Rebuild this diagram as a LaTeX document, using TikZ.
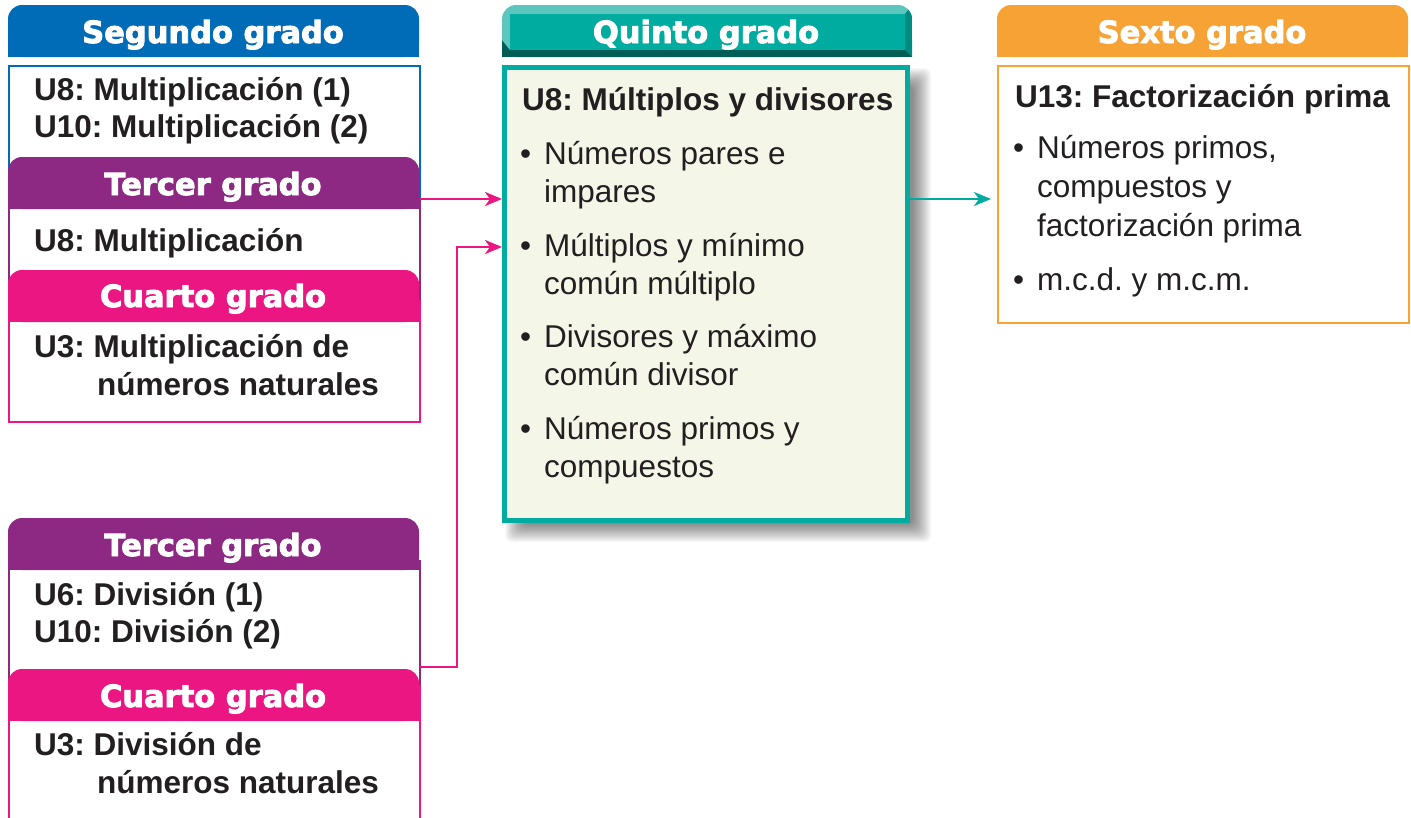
\documentclass[tikz,border=0pt]{standalone}
\usepackage{fontspec}
\setmainfont{Liberation Sans}
\newfontfamily\hdrfont[BoldFeatures={FakeBold=3}]{DejaVu Sans}
\usetikzlibrary{arrows.meta,calc}
\definecolor{cblue}{RGB}{0,108,183}
\definecolor{cpurple}{RGB}{141,40,131}
\definecolor{cpink}{RGB}{236,22,131}
\definecolor{cteal}{RGB}{0,171,160}
\definecolor{ctealL}{RGB}{92,198,190}
\definecolor{ctealR}{RGB}{0,138,128}
\definecolor{ctealD}{RGB}{0,94,87}
\definecolor{corange}{RGB}{247,162,53}
\definecolor{ccream}{RGB}{244,247,232}
\definecolor{ctext}{RGB}{35,31,32}
\newcommand\hdrbox[3]{%
  \fill[#1,rounded corners=14pt] (#2,#3) rectangle ++(411,52);
  \fill[#1] (#2,#3) ++(0,20) rectangle ++(411,32);}
\frenchspacing
\begin{document}
\begin{tikzpicture}[x=1pt,y=-1pt,
  hdrtxt/.style={text=white,font=\hdrfont\bfseries\fontsize{30.5}{36}\selectfont,anchor=base,inner sep=0},
  bt/.style={text=ctext,font=\bfseries\fontsize{31.5}{38}\selectfont,anchor=base west,inner sep=0},
  rt/.style={text=ctext,font=\fontsize{31.5}{38}\selectfont,anchor=base west,inner sep=0},
  boxnode/.style={draw,anchor=north west,inner sep=0,minimum width=411pt},
  pinkline/.style={draw=cpink,line width=2.5pt,-{Stealth[length=17pt,width=14pt,inset=5pt]}},
  tealline/.style={draw=cteal,line width=2.5pt,-{Stealth[length=17pt,width=14pt,inset=5pt]}}]
\clip (0,0) rectangle (1411,817);
\fill[white] (0,0) rectangle (1411,817);

% ---------- left group 1 ----------
\node[boxnode,draw=cblue,line width=1.5pt,minimum height=135pt] (segbox) at (8,65) {};
\node[boxnode,draw=cpurple,line width=1.5pt,minimum height=100pt] (ter1box) at (8,200) {};
\node[boxnode,draw=cpink,line width=2pt,minimum height=121pt] (cua1box) at (8,300) {};
\hdrbox{cblue}{8}{5}
\hdrbox{cpurple}{8}{157}
\hdrbox{cpink}{8}{270}
\node[hdrtxt] (seghdr) at (213,43) {Segundo grado};
\node[hdrtxt] (ter1hdr) at (213,195) {Tercer grado};
\node[hdrtxt] (cua1hdr) at (213,307) {Cuarto grado};
\node[bt] (s1) at (34,100) {U8: Multiplicación (1)};
\node[bt] (s2) at (34,137) {U10: Multiplicación (2)};
\node[bt] (t1) at (34,251) {U8: Multiplicación};
\node[bt] (c1a) at (34,357) {U3: Multiplicación de};
\node[bt] (c1b) at (97,395) {números naturales};

% ---------- left group 2 ----------
\node[boxnode,draw=cpurple,line width=1.5pt,minimum height=140pt] (ter2box) at (8,560) {};
\node[boxnode,draw=cpink,line width=2pt,minimum height=160pt] (cua2box) at (8,685) {};
\hdrbox{cpurple}{8}{518}
\hdrbox{cpink}{8}{669}
\node[hdrtxt] (ter2hdr) at (213,556) {Tercer grado};
\node[hdrtxt] (cua2hdr) at (213,707) {Cuarto grado};
\node[bt] (t2a) at (34,605) {U6: División (1)};
\node[bt] (t2b) at (34,642) {U10: División (2)};
\node[bt] (c2a) at (34,755) {U3: División de};
\node[bt] (c2b) at (97,793) {números naturales};

% ---------- Quinto grado ----------
\begin{scope}
\clip[rounded corners=14pt] (502,5) rectangle (912,57);
\fill[ctealL] (502,5) rectangle (912,57);
\fill[ctealR] (905,14) -- (912,5) -- (912,57) -- (905,50) -- cycle;
\fill[ctealD] (502,57) -- (510,50) -- (905,50) -- (912,57) -- cycle;
\fill[cteal] (510,14) rectangle (905,50);
\end{scope}
\fill[ctealD] (502,40) rectangle (912,57);
\fill[ctealR] (905,40) -- (912,40) -- (912,57) -- (905,50) -- cycle;
\fill[ctealL] (502,40) -- (510,40) -- (510,50) -- cycle;
\fill[cteal] (510,40) rectangle (905,50);
\node[hdrtxt] (quihdr) at (706,43) {Quinto grado};
% soft shadow
\foreach \k in {-9,...,9}
  \fill[black,opacity=0.028,rounded corners=6pt] (514+\k,77+\k) rectangle (922-\k,533-\k);
\node[draw=cteal,line width=5pt,fill=ccream,anchor=north west,inner sep=0,
      minimum width=403pt,minimum height=453pt] (qbox) at (502,65) {};
\node[bt] (q0) at (522,110) {U8: Múltiplos y divisores};
\node[rt] (qb1) at (520,164) {•};
\node[rt] (q1a) at (544,164) {Números pares e};
\node[rt] (q1b) at (544,202) {impares};
\node[rt] (qb2) at (520,256) {•};
\node[rt] (q2a) at (544,256) {Múltiplos y mínimo};
\node[rt] (q2b) at (544,294) {común múltiplo};
\node[rt] (qb3) at (520,347) {•};
\node[rt] (q3a) at (544,347) {Divisores y máximo};
\node[rt] (q3b) at (544,385) {común divisor};
\node[rt] (qb4) at (520,439) {•};
\node[rt] (q4a) at (544,439) {Números primos y};
\node[rt] (q4b) at (544,477) {compuestos};

% ---------- Sexto grado ----------
\hdrbox{corange}{997}{5}
\node[hdrtxt] (sexhdr) at (1202,43) {Sexto grado};
\node[boxnode,draw=corange,line width=2pt,minimum height=257pt] (sexbox) at (997,65) {};
\node[bt] (x0) at (1015,107) {U13: Factorización prima};
\node[rt] (xb1) at (1013,158) {•};
\node[rt] (x1a) at (1037,158) {Números primos,};
\node[rt] (x1b) at (1037,197) {compuestos y};
\node[rt] (x1c) at (1037,236) {factorización prima};
\node[rt] (xb2) at (1013,290) {•};
\node[rt] (x2a) at (1037,290) {m.c.d. y m.c.m.};

% ---------- connectors ----------
\coordinate (p1) at (420,199);
\coordinate (p2) at (420,667);
\draw[pinkline] (p1) -- (p1 -| qbox.west);
\draw[pinkline] (p2) -- ++(37,0) |- ($(qbox.north west)+(0,182)$);
\draw[tealline] (qbox.east |- p1) -- ($(sexbox.west |- p1)+(-6,0)$);
\end{tikzpicture}
\end{document}
